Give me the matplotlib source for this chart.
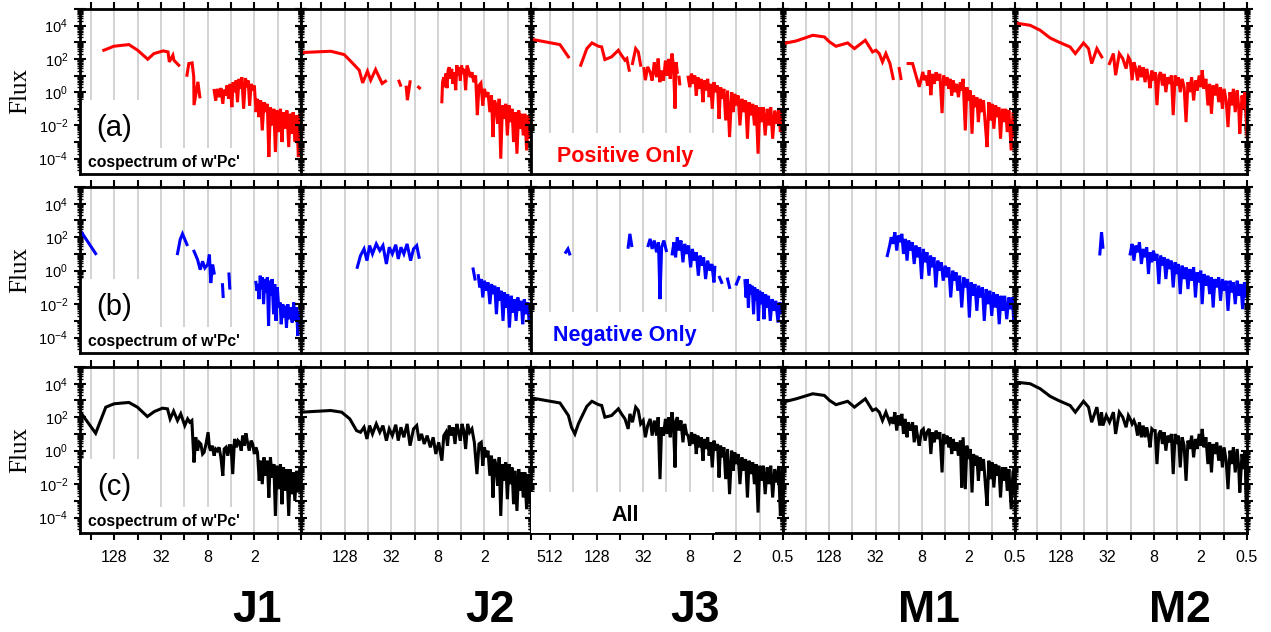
import numpy as np
import matplotlib
matplotlib.use('Agg')
import matplotlib.pyplot as plt
from matplotlib.ticker import FixedLocator, FuncFormatter, LogLocator, NullFormatter, NullLocator
from matplotlib.patches import Rectangle

plt.rcParams['font.family'] = ['Liberation Sans', 'DejaVu Sans']
plt.rcParams['mathtext.fontset'] = 'custom'
plt.rcParams['mathtext.rm'] = 'Liberation Sans'
plt.rcParams['mathtext.it'] = 'Liberation Sans:italic'
plt.rcParams['mathtext.bf'] = 'Liberation Sans:bold'

# data: (period, log10 flux), None = gap in the curve
sites = ['J1', 'J2', 'J3', 'M1', 'M2']
period_ticks = [512, 128, 32, 8, 2, 0.5]
tick_text = ['512', '128', '32', '8', '2', '0.5']
shown_ticks = [[128, 32, 8, 2], [128, 32, 8, 2], [512, 128, 32, 8, 2, 0.5],
               [128, 32, 8, 2, 0.5], [128, 32, 8, 2, 0.5]]

j1_pos = [(175, 2.52), (130, 2.76), (100, 2.82), (83, 2.86), (64, 2.52), (47.5, 1.98), (39.5, 2.32),
          (30, 2.48), (26, 2.42), (25, 1.82), (22.5, 2.22), (21.8, 1.92), (18.9, 1.62), None,
          (14.8, 1.02), (14, 1.72), (12.7, 1.76), (12.1, 0.92), (12, -0.78), (10.7, 0.62), (10.1, -0.28), None,
          (6.6, 0.1), (6.3, -0.5), (6.0, 0.2), (5.7, -0.3), (5.4, 0.25), (5.1, -0.7), (4.9, 0.15), (4.7, -0.2),
          (4.5, 0.4), (4.3, -0.4), (4.1, 0.5), (3.9, -0.9), (3.75, 0.6), (3.6, 0.0), (3.45, 0.7), (3.3, -0.6),
          (3.15, 0.8), (3.0, 0.2), (2.9, 0.9), (2.75, -1.0), (2.6, 0.85), (2.5, 0.3), (2.4, 0.7), (2.3, -0.8),
          (2.2, 0.5), (2.1, 0.1), (2.0, 0.4), (1.9, -1.2), (1.82, -0.4), (1.74, -1.5), (1.66, -0.5), (1.58, -2.3),
          (1.5, -0.6), (1.43, -1.2), (1.36, -0.7), (1.3, -3.9), (1.24, -0.9), (1.18, -2.0), (1.12, -1.0),
          (1.07, -3.6), (1.02, -1.1), (0.97, -2.4), (0.92, -1.0), (0.88, -3.0), (0.84, -1.2), (0.8, -2.2),
          (0.76, -1.1), (0.72, -3.3), (0.69, -1.3), (0.66, -2.5), (0.63, -1.2), (0.6, -3.0), (0.57, -1.4),
          (0.54, -3.9), (0.52, -1.3), (0.5, -2.0)]
j1_neg = [(340, 2.3), (223, 1.02), None,
          (19.6, 1.02), (18.1, 1.86), (16.9, 2.2), (14.8, 1.56), None,
          (12, 1.16), (10.8, 0.66), (10, 0.06), (9.3, 0.56), (8.7, 0.16), (8.0, 0.36), (7.6, 0.96), (7.3, -0.74),
          (6.9, 0.36), (6.6, -0.14), None, (5.15, -0.84), (5.05, -1.54), None, (4.25, -0.2), (4.15, -1.04), None,
          (1.91, -0.7), (1.85, -1.2), (1.8, -0.8), (1.74, -1.7), (1.68, -0.3), (1.62, -1.1), (1.57, -0.4),
          (1.52, -2.0), (1.46, -0.5), (1.41, -1.3), (1.36, -0.4), (1.31, -3.3), (1.27, -0.6), (1.22, -1.5),
          (1.18, -0.5), (1.13, -2.6), (1.09, -0.8), (1.05, -3.0), (1.01, -1.0), (0.97, -2.2), (0.93, -1.9),
          (0.9, -3.2), (0.86, -2.0), (0.83, -2.8), (0.8, -2.1), (0.77, -3.4), (0.74, -2.0), (0.71, -2.9),
          (0.68, -2.2), (0.65, -3.1), (0.62, -1.9), (0.6, -3.0), (0.57, -2.2), (0.55, -3.9), (0.53, -2.4),
          (0.51, -3.2), (0.5, -2.5)]
j1_all = [(350, 2.3), (223, 1.04), (165, 2.6), (129, 2.8), (100, 2.85), (83, 2.88), (64.5, 2.6), (48, 2.04),
          (39, 2.34), (30.6, 2.54), (26.4, 2.5), (24.4, 1.9), (22, 2.36), (19.6, 1.8), (17.8, 2.2), (15.8, 1.5),
          (14.5, 1.9), (13.6, 1.7), (12.8, 1.8), (12, -0.7), (11.4, 0.8), (10.8, 0.0), (10.3, 0.5), (9.8, 0.4),
          (9.3, -0.2), (8.9, -0.1), (8.4, 0.4), (7.9, 1.1), (7.6, 0.2), (7.3, 0.0), (7.0, 0.3), (6.6, -0.3),
          (6.3, 0.1), (6.0, 0.0), (5.7, 0.2), (5.4, -0.4), (5.1, -1.5), (4.9, 0.1), (4.65, 0.2), (4.4, -0.3),
          (4.2, 0.3), (4.0, 0.3), (3.8, -1.4), (3.6, 0.7), (3.4, 0.2), (3.25, 0.6), (3.1, 0.5), (2.95, 0.0),
          (2.83, 0.9), (2.7, 0.3), (2.57, 1.04), (2.45, 0.5), (2.33, 0.0), (2.2, 0.6), (2.1, 0.4), (2.0, -0.2),
          (1.91, 0.2), (1.82, -0.1), (1.73, -1.8), (1.66, -0.6), (1.58, -2.0), (1.5, -0.4), (1.43, -1.5),
          (1.36, -0.6), (1.3, -2.8), (1.24, -0.4), (1.18, -1.6), (1.12, -0.8), (1.07, -3.9), (1.02, -0.9),
          (0.97, -2.3), (0.92, -0.8), (0.88, -3.2), (0.84, -1.0), (0.8, -2.4), (0.76, -1.1), (0.72, -3.9),
          (0.69, -1.1), (0.66, -2.6), (0.63, -1.3), (0.6, -3.0), (0.57, -1.2), (0.54, -2.5), (0.52, -1.2),
          (0.5, -2.0)]

j2_pos = [(470, 2.38), (194, 2.46), (130, 2.26), (102, 1.76), (83, 1.32), (75, 0.56), (65, 1.26), (59, 0.72),
          (51, 1.36), (42, 0.52), (38, 0.66), None, (25.4, 0.66), (24.3, 0.42), None,
          (20.5, 0.3), (19.8, -0.48), (18.3, 0.62), None, (14.2, 0.3), (13.8, 0.25), None,
          (7.1, -0.58), (6.95, 0.62), (6.7, 0.9), (6.5, 0.3), (6.3, 1.12), (6.1, 0.24), (5.9, 1.3), (5.7, 1.5),
          (5.5, 0.8), (5.3, 1.4), (5.1, 0.5), (4.9, 1.2), (4.7, 0.12), (4.55, 1.62), (4.4, 1.0), (4.25, 1.5),
          (4.1, 0.7), (3.95, 1.6), (3.8, 1.1), (3.65, 1.4), (3.5, 0.12), (3.35, 1.6), (3.2, 1.3), (3.05, 0.9),
          (2.9, 1.2), (2.75, 0.6), (2.6, 1.0), (2.47, -1.38), (2.35, 0.4), (2.22, 0.55), (2.1, -0.8), (2.0, 0.2),
          (1.9, -0.3), (1.8, 0.0), (1.7, -1.2), (1.62, -0.2), (1.55, -2.7), (1.48, -0.5), (1.41, -0.8),
          (1.35, -1.9), (1.29, -0.4), (1.23, -4.0), (1.17, -0.8), (1.11, -1.6), (1.06, -0.7), (1.01, -2.6),
          (0.96, -0.8), (0.92, -1.8), (0.88, -1.0), (0.84, -3.0), (0.8, -1.2), (0.76, -3.7), (0.72, -1.1),
          (0.69, -2.2), (0.66, -1.3), (0.63, -2.6), (0.6, -1.3), (0.57, -3.5), (0.54, -1.4), (0.52, -2.8),
          (0.5, -1.6)]
j2_neg = [(88, 0.2), (80, 0.9), (72, 1.3), (66, 0.6), (61, 1.5), (56, 1.0), (50, 1.6), (45, 1.2), (41, 1.5),
          (37, 0.4), (34, 1.4), (31, 1.0), (28, 1.55), (26, 0.7), (24, 1.4), (22, 1.0), (20, 1.6), (18, 0.6),
          (16.5, 1.3), (15, 1.5), (14, 0.8), None, (2.8, 0.1), (2.65, -0.5), None,
          (2.4, -0.3), (2.3, -1.0), (2.2, -0.5), (2.1, -1.6), (2.0, -0.6), (1.9, -1.2), (1.8, -0.7), (1.7, -2.0),
          (1.62, -0.8), (1.54, -1.4), (1.47, -0.9), (1.4, -2.6), (1.33, -1.0), (1.27, -1.8), (1.21, -1.2),
          (1.15, -3.0), (1.1, -1.3), (1.05, -2.2), (1.0, -1.4), (0.95, -3.4), (0.9, -1.5), (0.86, -2.5),
          (0.82, -1.7), (0.78, -3.0), (0.74, -1.6), (0.7, -2.4), (0.67, -1.8), (0.64, -3.2), (0.61, -1.7),
          (0.58, -2.6), (0.55, -1.9), (0.53, -3.0), (0.5, -2.0)]
j2_all = [(470, 2.3), (194, 2.4), (140, 2.3), (110, 1.9), (90, 1.2), (80, 1.1), (72, 1.4), (66, 0.7), (61, 1.5),
          (56, 1.0), (50, 1.6), (45, 1.1), (41, 1.5), (37, 0.6), (34, 1.3), (31, 0.9), (28, 1.55), (26, 0.6),
          (24, 1.4), (22, 0.8), (20, 1.6), (18.3, 0.3), (16.5, 1.3), (15, 1.5), (14, 0.6), (13, 1.0), (12, 0.4),
          (11, 0.9), (10, 0.2), (9.2, 0.8), (8.5, -0.2), (7.8, 0.5), (7.1, -0.6), (6.7, 0.9), (6.3, 1.1),
          (6.0, 0.3), (5.7, 1.5), (5.4, 0.9), (5.1, 1.4), (4.8, 0.4), (4.55, 1.6), (4.3, 1.1), (4.1, 0.6),
          (3.9, 1.6), (3.7, 1.2), (3.5, 0.1), (3.3, 1.6), (3.1, 1.1), (2.9, 1.3), (2.7, 0.5), (2.5, -1.4),
          (2.35, 0.4), (2.2, 0.5), (2.1, -0.9), (2.0, 0.2), (1.9, -0.4), (1.8, 0.0), (1.7, -1.5), (1.62, -0.3),
          (1.55, -2.8), (1.48, -0.5), (1.41, -0.9), (1.35, -2.1), (1.29, -0.4), (1.23, -3.9), (1.17, -0.8),
          (1.11, -1.8), (1.06, -0.7), (1.01, -2.9), (0.96, -0.8), (0.92, -2.0), (0.88, -1.0), (0.84, -3.2),
          (0.8, -1.2), (0.76, -3.6), (0.72, -1.1), (0.69, -2.4), (0.66, -1.3), (0.63, -2.8), (0.6, -1.3),
          (0.57, -3.5), (0.54, -1.4), (0.52, -3.0), (0.5, -1.6)]

j3_pos = [(885, 3.18), (380, 2.86), (296, 2.12), None,
          (205, 1.62), (171, 2.62), (147, 2.96), (121, 2.76), (110, 2.72), (100, 1.96), (82, 2.12), (67, 2.52),
          (61, 2.22), (55, 1.92), (52, 2.02), (48.5, 1.32), None, (44, 1.72), (40, 2.62), (37, 2.42), (34.5, 1.62),
          None, (31.3, 1.42), (30, 0.72), (28, 1.52), (26, 1.2), (24.5, 0.7), (23, 1.8), (21.5, 0.9), (20.5, 2.02),
          (19.5, 0.6), (18.5, 1.3), (17.5, 0.7), (16.5, 1.9), (15.7, 1.0), (15, 2.0), (14.3, 0.8), (13.6, 2.32),
          (13, 1.6), (12.4, -0.98), (12.0, 1.8), (11.6, 1.2), None, (11.0, 0.9), (10.8, 0.5), None,
          (8.4, 0.9), (8.0, 0.3), (7.6, 1.12), (7.2, 0.5), (6.9, 1.0), (6.6, -0.2), (6.3, 0.9), (6.0, 0.2),
          (5.7, 0.8), (5.4, -0.6), (5.2, 0.7), (4.95, 0.1), (4.7, 0.8), (4.5, -0.3), (4.3, 0.5), (4.1, -1.0),
          (3.9, 0.6), (3.7, 0.0), (3.5, 0.4), (3.35, -1.6), (3.2, 0.3), (3.05, -0.4), (2.9, 0.2), (2.75, -1.7),
          (2.6, 0.1), (2.45, -2.7), (2.3, 0.0), (2.2, -1.2), (2.1, -0.1), (2.0, -0.8), (1.9, -0.2), (1.8, -2.0),
          (1.7, -0.4), (1.6, -1.2), (1.52, -0.5), (1.44, -2.8), (1.37, -0.6), (1.3, -1.4), (1.23, -0.7),
          (1.17, -2.0), (1.11, -0.8), (1.05, -3.7), (1.0, -0.9), (0.95, -1.8), (0.9, -0.9), (0.85, -2.6),
          (0.8, -1.0), (0.76, -2.0), (0.72, -0.9), (0.68, -2.8), (0.64, -1.1), (0.6, -1.9), (0.57, -1.0),
          (0.54, -2.4), (0.52, -1.2), (0.5, -2.0)]
j3_neg = [(320, 1.1), (300, 1.3), (285, 1.0), None, (50, 1.4), (47.5, 2.2), (45, 1.5), None,
          (27.6, 1.5), (26, 1.9), (24.5, 1.3), (23, 1.8), (21.5, 1.1), (20.3, 1.7), (19.4, -1.7), (18.5, 1.4),
          (17.3, 1.8), (16.1, 1.2), None,
          (13.5, 1.0), (12.8, 1.7), (12.2, 0.8), (11.6, 2.0), (11.0, 1.2), (10.4, 1.8), (9.8, 0.5), (9.3, 1.6),
          (8.8, 1.0), (8.3, 1.5), (7.8, 0.2), (7.4, 1.3), (7.0, 0.6), (6.6, 1.1), (6.2, -0.3), (5.9, 0.9),
          (5.6, 0.3), (5.3, 0.8), (5.0, -0.5), (4.7, 0.6), (4.4, 0.0), (4.15, 0.4), (3.9, -0.7), (3.8, 0.2), None,
          (3.3, -0.4), (3.1, -0.7), None, (2.6, -0.5), (2.45, -1.0), None, (2.0, -0.8), (1.85, -0.4), None,
          (1.55, -0.6), (1.5, -1.6), (1.45, -0.5), (1.4, -2.2), (1.35, -0.8), (1.3, -1.4), (1.25, -0.9),
          (1.2, -2.6), (1.16, -1.0), (1.12, -1.8), (1.08, -1.1), (1.04, -3.0), (1.0, -1.2), (0.96, -2.0),
          (0.92, -1.3), (0.88, -2.9), (0.84, -1.4), (0.81, -2.2), (0.77, -1.5), (0.73, -3.0), (0.69, -1.7),
          (0.65, -2.4), (0.62, -1.8), (0.58, -3.1), (0.55, -1.9), (0.52, -2.6), (0.5, -2.0)]
j3_all = [(890, 3.15), (380, 2.85), (296, 2.1), (270, 1.4), (244, 1.0), (220, 1.6), (205, 1.9), (171, 2.65),
          (147, 2.95), (121, 2.75), (110, 2.7), (100, 2.0), (82, 2.1), (67, 2.5), (61, 2.2), (55, 1.9), (50, 1.3),
          (47.5, 2.2), (44, 1.7), (40, 2.6), (37, 2.4), (34.5, 1.6), (32, 1.8), (30, 0.8), (28, 1.5), (26, 1.9),
          (24.5, 0.9), (23, 1.8), (21.5, 0.9), (20.5, 2.0), (19.4, -1.7), (18.5, 1.4), (17.5, 0.9),
          (16.5, 1.9), (15.7, 1.0), (15, 2.0), (14.3, 0.8), (13.6, 2.3), (13, 1.5), (12.4, -1.0), (12.0, 1.8),
          (11.6, 2.0), (11, 1.2), (10.4, 1.8), (9.8, 0.5), (9.3, 1.6), (8.8, 1.0), (8.4, 0.9), (8.0, 0.3),
          (7.6, 1.1), (7.2, 0.4), (6.9, 1.0), (6.6, -0.2), (6.3, 0.9), (6.0, 0.2), (5.7, 0.8), (5.4, -0.6),
          (5.2, 0.7), (4.95, 0.1), (4.7, 0.8), (4.5, -0.3), (4.3, 0.5), (4.1, -1.0), (3.9, 0.6), (3.7, 0.0),
          (3.5, 0.4), (3.35, -1.6), (3.2, 0.3), (3.05, -0.4), (2.9, 0.2), (2.75, -1.7), (2.6, 0.1), (2.45, -2.6),
          (2.3, 0.0), (2.2, -1.2), (2.1, -0.1), (2.0, -0.8), (1.9, -0.2), (1.8, -2.0), (1.7, -0.4), (1.6, -1.2),
          (1.52, -0.5), (1.44, -2.8), (1.37, -0.6), (1.3, -1.4), (1.23, -0.7), (1.17, -2.0), (1.11, -0.8),
          (1.05, -3.7), (1.0, -0.9), (0.95, -1.8), (0.9, -0.9), (0.85, -2.6), (0.8, -1.0), (0.76, -2.0),
          (0.72, -0.9), (0.68, -2.8), (0.64, -1.1), (0.6, -1.9), (0.57, -1.0), (0.54, -3.9), (0.52, -1.2),
          (0.5, -2.5)]

m1_pos = [(505, 2.92), (340, 3.08), (208, 3.42), (147, 3.32), (126, 3.02), (104, 2.76), (73.5, 2.96), (60, 2.62),
          (43.4, 3.12), (35, 2.42), (31.6, 2.52), (28.6, 2.32), (26, 1.82), (23.5, 2.32), (20.8, 1.72),
          (18.9, 0.82), None, (15.8, 1.42), (15, 0.82), None, (12.1, 1.72), (10.6, 1.72), (8.7, 0.32), (7.8, 1.22),
          (7.5, 0.72), (7.1, 1.0), (6.8, 0.4), (6.45, 1.32), (6.15, -0.18), (5.85, 1.1), (5.55, 0.5), (5.25, 1.2),
          (5.0, 0.7), (4.7, 1.1), (4.4, -1.26), (4.2, 1.0), (4.0, 0.4), (3.8, 0.9), (3.6, 0.2), (3.45, 0.8),
          (3.3, -0.2), (3.15, 0.7), (3.0, 0.0), (2.85, 0.5), (2.7, -0.3), (2.55, 0.6), (2.45, 0.1), (2.35, 0.8),
          (2.2, -2.3), (2.1, 0.3), (2.0, -0.5), (1.9, 0.1), (1.8, -2.5), (1.72, -0.2), (1.64, -0.9), (1.56, -0.3),
          (1.49, -1.8), (1.42, -0.4), (1.35, -1.2), (1.28, -0.5), (1.21, -2.0), (1.15, -3.3), (1.09, -0.6),
          (1.04, -1.7), (0.99, -0.7), (0.94, -2.2), (0.89, -0.8), (0.85, -1.5), (0.81, -0.9), (0.77, -2.8),
          (0.73, -1.0), (0.69, -1.8), (0.66, -1.0), (0.63, -2.4), (0.6, -1.1), (0.56, -3.5), (0.53, -1.2),
          (0.5, -2.6)]
m1_neg = [(22.5, 0.9), (21, 1.5), (20, 2.0), (19, 1.6), (18, 2.3), (17, 1.2), (16.2, 2.1), (15.4, 1.7),
          (14.6, 2.2), (13.9, 1.0), (13.2, 1.9), (12.5, 0.6), (11.9, 1.8), (11.3, 1.2), (10.7, 1.7), (10.1, 0.4),
          (9.6, 1.5), (9.1, 0.8), (8.6, 1.4), (8.1, -0.5), (7.7, 1.3), (7.3, 0.5), (6.9, 1.1), (6.5, -0.3),
          (6.2, 0.9), (5.9, 0.2), (5.6, 0.8), (5.3, -1.0), (5.0, 0.6), (4.75, 0.0), (4.5, 0.5), (4.25, -0.6),
          (4.0, 0.3), (3.8, -0.4), (3.6, 0.2), (3.4, -1.6), (3.2, 0.0), (3.05, -0.6), (2.9, -0.1), (2.75, -1.2),
          (2.6, -0.3), (2.45, -2.2), (2.3, -0.4), (2.18, -1.0), (2.06, -0.5), (1.95, -2.8), (1.85, -0.7),
          (1.75, -1.5), (1.65, -0.8), (1.56, -2.4), (1.48, -0.9), (1.4, -1.6), (1.32, -1.0), (1.25, -3.0),
          (1.18, -1.1), (1.12, -2.0), (1.06, -1.2), (1.0, -2.7), (0.95, -1.3), (0.9, -2.2), (0.85, -1.4),
          (0.8, -3.2), (0.76, -1.5), (0.72, -2.4), (0.68, -1.5), (0.64, -2.9), (0.6, -1.6), (0.57, -2.3),
          (0.54, -1.6), (0.52, -3.0), (0.5, -1.8)]
m1_all = [(505, 2.9), (340, 3.1), (208, 3.4), (147, 3.3), (126, 3.0), (104, 2.75), (73.5, 2.95), (60, 2.6),
          (43.4, 3.1), (35, 2.4), (31.6, 2.5), (28.6, 2.3), (26, 1.8), (23.5, 2.3), (21, 1.7), (20, 2.0),
          (18.9, 1.6), (18, 2.3), (17, 1.2), (16.2, 2.1), (15.4, 1.5), (14.6, 2.2), (13.9, 1.0), (13.2, 1.9),
          (12.5, 0.8), (12.1, 1.7), (11.3, 1.2), (10.6, 1.7), (10.1, 0.5), (9.6, 1.5), (9.1, 0.8), (8.7, 0.3),
          (8.1, 1.2), (7.7, 1.3), (7.3, 0.6), (6.9, 1.1), (6.45, 1.3), (6.15, -0.2), (5.85, 1.1), (5.55, 0.5),
          (5.25, 1.2), (5.0, 0.7), (4.7, 1.1), (4.4, -1.3), (4.2, 1.0), (4.0, 0.4), (3.8, 0.9), (3.6, 0.2),
          (3.45, 0.8), (3.3, -0.2), (3.15, 0.7), (3.0, 0.0), (2.85, 0.5), (2.7, -0.3), (2.55, 0.6), (2.45, -2.2),
          (2.35, 0.8), (2.2, -2.3), (2.1, 0.3), (2.0, -0.5), (1.9, 0.1), (1.8, -2.5), (1.72, -0.2), (1.64, -0.9),
          (1.56, -0.3), (1.49, -1.8), (1.42, -0.4), (1.35, -1.2), (1.28, -0.5), (1.21, -2.0), (1.15, -3.3),
          (1.09, -0.6), (1.04, -1.7), (0.99, -0.7), (0.94, -2.2), (0.89, -0.8), (0.85, -1.5), (0.81, -0.9),
          (0.77, -2.8), (0.73, -1.0), (0.69, -1.8), (0.66, -1.0), (0.63, -2.4), (0.6, -1.1), (0.56, -3.5),
          (0.53, -1.2), (0.5, -2.6)]

m2_pos = [(498, 4.16), (318, 4.02), (236, 3.72), (176, 3.26), (137, 3.02), (97, 2.72), (83, 2.32), (65, 2.96),
          (56, 2.62), (51, 1.72), (43.7, 2.62), (37.8, 2.12), None,
          (30, 1.72), (26.7, 2.32), (25, 1.02), (22.4, 2.32), (20.2, 2.02), (18.3, 1.42), (17.1, 2.12),
          (16.2, 1.92), (15.3, 0.72), (14.5, 1.8), (13.7, 1.4), (13.0, 0.7), (12.3, 1.6), (11.6, 0.9), (11.0, 1.5),
          (10.4, 0.6), (9.9, 1.4), (9.4, 0.9), (8.96, 0.24), (8.5, 1.3), (8.1, 0.7), (7.7, 1.2), (7.3, -0.78),
          (6.9, 1.0), (6.55, 1.2), (6.2, 0.4), (5.9, 1.1), (5.6, 0.0), (5.3, 0.9), (5.0, 0.5), (4.75, 1.0),
          (4.5, -1.38), (4.25, 1.0), (4.05, 0.4), (3.85, 0.9), (3.65, 0.0), (3.45, 0.8), (3.25, 0.3),
          (3.07, -1.8), (2.9, 0.6), (2.75, 0.0), (2.6, 0.9), (2.45, -0.5), (2.32, 0.7), (2.2, 0.1), (2.08, 1.0),
          (1.98, 0.3), (1.9, 1.32), (1.8, 0.2), (1.7, 0.8), (1.6, -0.8), (1.52, 0.5), (1.44, -1.3), (1.37, 0.4),
          (1.3, -0.2), (1.23, 0.5), (1.16, -0.6), (1.1, 0.3), (1.04, -1.0), (0.99, 0.2), (0.93, -0.5),
          (0.88, -2.1), (0.83, 0.0), (0.79, -0.8), (0.75, 0.2), (0.71, -1.2), (0.67, 0.1), (0.64, -0.9),
          (0.62, -2.5), (0.58, -0.2), (0.55, -1.0), (0.53, 0.0), (0.51, -1.6), (0.5, -2.6)]
m2_neg = [(40, 1.0), (38, 2.3), (36.5, 1.4), None,
          (16.2, 1.0), (15.3, 1.6), (14.5, 0.6), (13.7, 1.5), (13.0, 1.1), (12.3, 1.7), (11.6, 0.4), (11.0, 1.3),
          (10.4, 0.8), (9.9, 1.4), (9.4, -0.2), (8.96, 1.1), (8.5, 0.5), (8.1, 1.2), (7.7, 0.6), (7.3, 1.0),
          (6.9, -0.8), (6.55, 0.9), (6.2, 0.3), (5.9, 0.8), (5.6, -0.5), (5.3, 0.7), (5.0, 0.1), (4.75, 0.6),
          (4.5, -1.0), (4.25, 0.5), (4.05, -0.2), (3.85, 0.4), (3.65, -1.4), (3.45, 0.3), (3.25, -0.5),
          (3.07, 0.2), (2.9, -1.1), (2.75, 0.1), (2.6, -0.6), (2.45, 0.2), (2.32, -1.6), (2.2, -0.1), (2.08, -0.7),
          (1.98, 0.0), (1.9, -2.0), (1.8, -0.2), (1.7, -0.9), (1.6, -0.3), (1.52, -1.4), (1.44, -0.4),
          (1.37, -2.2), (1.3, -0.5), (1.23, -1.0), (1.16, -0.4), (1.1, -1.8), (1.04, -0.5), (0.99, -1.2),
          (0.93, -0.6), (0.88, -2.4), (0.83, -0.6), (0.79, -1.3), (0.75, -0.7), (0.71, -2.0), (0.67, -0.6),
          (0.64, -1.5), (0.6, -0.8), (0.57, -2.3), (0.54, -0.7), (0.52, -1.6), (0.5, -1.0)]
m2_all = [(498, 4.1), (318, 4.0), (236, 3.7), (176, 3.25), (137, 3.0), (97, 2.7), (83, 2.3), (65, 2.95),
          (56, 2.6), (51, 1.7), (43.7, 2.6), (40, 1.5), (38, 2.3), (36.5, 1.5), (33, 2.1), (30, 1.7), (26.7, 2.3),
          (25, 1.0), (22.4, 2.3), (20.2, 2.0), (18.3, 1.4), (17.1, 2.1), (16.2, 1.9), (15.3, 1.6), (14.5, 1.8),
          (13.7, 1.5), (13.0, 0.9), (12.3, 1.7), (11.6, 0.8), (11.0, 1.5), (10.4, 0.8), (9.9, 1.4), (9.4, 0.9),
          (8.96, 0.2), (8.5, 1.3), (8.1, 1.2), (7.7, 1.2), (7.3, -0.8), (6.9, 1.0), (6.55, 1.2), (6.2, 0.4),
          (5.9, 1.1), (5.6, 0.0), (5.3, 0.9), (5.0, 0.5), (4.75, 1.0), (4.5, -1.4), (4.25, 1.0), (4.05, 0.4),
          (3.85, 0.9), (3.65, -1.0), (3.45, 0.8), (3.25, 0.3), (3.07, -1.8), (2.9, 0.6), (2.75, 0.1), (2.6, 0.9),
          (2.45, -0.4), (2.32, 0.7), (2.2, 0.1), (2.08, 1.0), (1.98, 0.3), (1.9, 1.3), (1.8, 0.2), (1.7, 0.8),
          (1.6, -0.8), (1.52, 0.5), (1.44, -1.3), (1.37, 0.4), (1.3, -0.2), (1.23, 0.5), (1.16, -0.6), (1.1, 0.3),
          (1.04, -1.0), (0.99, 0.2), (0.93, -0.6), (0.88, -2.3), (0.83, 0.0), (0.79, -0.8), (0.75, 0.2),
          (0.71, -1.3), (0.67, 0.1), (0.64, -1.0), (0.62, -2.5), (0.58, -0.2), (0.55, -1.1), (0.53, 0.0),
          (0.51, -3.5), (0.5, -2.6)]

rows = [[j1_pos, j2_pos, j3_pos, m1_pos, m2_pos],
        [j1_neg, j2_neg, j3_neg, m1_neg, m2_neg],
        [j1_all, j2_all, j3_all, m1_all, m2_all]]
row_colors = ['#ff0000', '#0000ff', 'black']
row_tags = ['(a)', '(b)', '(c)']
row_notes = ['Positive Only', 'Negative Only', 'All']


def to_xy(pairs):
    x, y = [], []
    for p in pairs:
        if p is None:
            x.append(np.nan)
            y.append(np.nan)
        else:
            x.append(p[0])
            y.append(10.0 ** p[1])
    return np.array(x), np.array(y)


def ytick_label(v, pos):
    e = int(round(np.log10(v)))
    if e % 2 != 0 or e > 4 or e < -4:
        return ''
    return r'$10^{%d}$' % e


# layout in pixels of the 1271x632 canvas
W, H = 1271, 632
col_left = [80, 301, 531, 783, 1015]
col_right = [301, 531, 783, 1015, 1247]
col_pmax = [355, 470, 900, 505, 500]
row_top = [9, 187, 367]
row_bot = [174, 353, 533]
title_x = [0.80, 0.82, 0.65, 0.63, 0.71]

fig = plt.figure(figsize=(W / 100, H / 100), dpi=100)

for r in range(3):
    for c in range(5):
        ax = fig.add_axes([col_left[c] / W, 1 - row_bot[r] / H,
                           (col_right[c] - col_left[c]) / W, (row_bot[r] - row_top[r]) / H])
        x, y = to_xy(rows[r][c])
        ax.plot(x, y, color=row_colors[r], lw=2.2, solid_joinstyle='miter', zorder=2)

        ax.set_xscale('log', base=2)
        ax.set_yscale('log')
        ax.set_xlim(col_pmax[c], 0.5)
        ax.set_ylim(10 ** -4.92, 10 ** 5.0)

        show = shown_ticks[c]
        ax.xaxis.set_major_locator(FixedLocator(2.0 ** np.arange(-1, 10)))
        ax.xaxis.set_minor_locator(NullLocator())
        ax.xaxis.set_major_formatter(FuncFormatter(
            lambda v, pos, show=show: tick_text[period_ticks.index(v)] if v in show else ''))

        ax.yaxis.set_major_locator(LogLocator(base=10, numticks=30))
        ax.yaxis.set_minor_locator(LogLocator(base=10, subs=np.arange(2, 10), numticks=30))
        ax.yaxis.set_minor_formatter(NullFormatter())
        ax.yaxis.set_major_formatter(FuncFormatter(ytick_label))

        ax.tick_params(axis='x', which='major', direction='out', length=5, width=1.5,
                       top=True, bottom=(r == 2), labelbottom=(r == 2), labelsize=11.5, pad=7)
        ax.tick_params(axis='y', which='major', direction='inout', length=9, width=1.5,
                       left=True, right=True, labelleft=(c == 0), labelsize=10.5, pad=4)
        ax.tick_params(axis='y', which='minor', direction='inout', length=5, width=1.0,
                       left=True, right=True)
        ax.grid(True, axis='x', which='major', color='#c8c8c8', lw=1.1)
        ax.set_axisbelow(True)
        for s in ax.spines.values():
            s.set_linewidth(2.0)

        if c == 0:
            # white patches behind the labels hide the grid lines
            ax.add_patch(Rectangle((0, 0.158), 0.32, 0.29, transform=ax.transAxes,
                                   fc='white', ec='none', zorder=1))
            ax.add_patch(Rectangle((0, 0), 0.72, 0.158, transform=ax.transAxes,
                                   fc='white', ec='none', zorder=1))
            ax.text(0.153, 0.28, row_tags[r], transform=ax.transAxes, ha='center', va='center',
                    fontsize=21, zorder=3)
            ax.text(0.035, 0.045, "cospectrum of w'Pc'", transform=ax.transAxes, ha='left',
                    va='baseline', fontsize=11.3, fontweight='bold', zorder=3)
        if c == 2:
            ax.add_patch(Rectangle((0, 0), 0.73, 0.25, transform=ax.transAxes, fc='white',
                                   ec='none', zorder=2.6 if r == 2 else 1, clip_on=False))
            ax.text(0.372, 0.07, row_notes[r], transform=ax.transAxes, ha='center', va='baseline',
                    fontsize=15.5, fontweight='bold', color=row_colors[r], zorder=3)
        if r == 2:
            ax.text(title_x[c], -0.535, sites[c], transform=ax.transAxes, ha='center',
                    va='baseline', fontsize=32, fontweight='bold',
                    family=['Liberation Sans Narrow', 'Liberation Sans'])

for r in range(3):
    fig.text(20 / W, 1 - (row_top[r] + row_bot[r]) / 2 / H, 'Flux', rotation=90,
             ha='center', va='center', fontsize=18, family=['Liberation Serif', 'DejaVu Serif'])

fig.savefig('out.png', dpi=100)
